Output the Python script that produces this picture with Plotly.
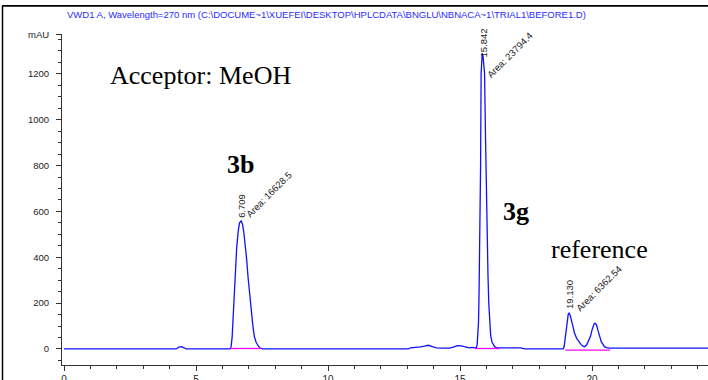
import plotly.graph_objects as go

# ---- chromatogram signal (time in min, absorbance in mAU) ----
time_min = [
    0.0, 4.25, 4.35, 4.45, 4.55, 4.62,
    6.29, 6.33, 6.37, 6.42, 6.48, 6.54, 6.60, 6.65, 6.709, 6.76, 6.81, 6.86, 6.92, 6.97,
    7.03, 7.09, 7.15, 7.21, 7.28, 7.36, 7.43, 7.52,
    13.05, 13.12, 13.3, 13.5, 13.65, 13.8, 13.95, 14.1, 14.3, 14.6, 14.75, 14.9, 15.05,
    15.2, 15.35, 15.45, 15.55, 15.6,
    15.62, 15.65, 15.68, 15.70, 15.72, 15.75, 15.78, 15.80, 15.82, 15.842, 15.87, 15.90,
    15.93, 15.97, 16.00, 16.03, 16.06, 16.09, 16.12, 16.16, 16.21, 16.26, 16.31, 16.38,
    16.45, 17.3, 17.45,
    18.90, 18.92, 18.95, 18.98, 19.02, 19.06, 19.10, 19.13, 19.17, 19.22, 19.28, 19.34,
    19.42, 19.50, 19.58, 19.66, 19.72, 19.80, 19.87, 19.94, 20.00, 20.03, 20.08, 20.12,
    20.17, 20.22, 20.29, 20.35, 20.43, 20.47, 20.55, 20.66, 24.4,
]
signal_mau = [
    0, 0, 8, 10, 5, 0,
    0, 10, 54, 170, 315, 440, 515, 550, 558, 545, 510, 461, 390, 315,
    240, 170, 105, 54, 28, 13, 4, 0,
    0, 5, 6, 9, 12, 16, 10, 5, 4, 4, 8, 14, 13,
    9, 5, 7, 4, 4,
    5, 20, 60, 113, 230, 476, 800, 1204, 1275, 1290, 1280, 1250,
    1204, 900, 650, 476, 320, 200, 113, 60, 30, 17, 10, 6,
    5, 5, 0,
    0, 2, 15, 45, 90, 130, 152, 156, 148, 126, 95, 68,
    46, 32, 20, 12, 10, 18, 33, 54, 82, 97, 110, 112,
    105, 83, 55, 32, 18, 10, 6, 4, 4,
]

# integration baselines (start, end, level)
base_start = [6.30, 15.55, 18.99]
base_end = [7.44, 16.50, 20.68]
base_level = [2, 2, -5]

# peak labels
peak_rt_text = ["6.709", "15.842", "19.130"]
peak_area_text = ["Area: 16628.5", "Area: 23794.4", "Area: 6362.54"]

y_tick_vals = [0, 200, 400, 600, 800, 1000, 1200, 1370]
y_tick_text = ["0", "200", "400", "600", "800", "1000", "1200", "mAU"]
x_tick_vals = [0, 5, 10, 15, 20]

title_text = "VWD1 A, Wavelength=270 nm (C:\\DOCUME~1\\XUEFEI\\DESKTOP\\HPLCDATA\\BNGLU\\NBNACA~1\\TRIAL1\\BEFORE1.D)"

W, H = 708, 380

def px(xp):
    return xp / W

def py(yp):
    return 1 - yp / H

fig = go.Figure()
fig.add_trace(go.Scatter(x=time_min, y=signal_mau, mode="lines",
                         line=dict(color="#1010ff", width=1.3), hoverinfo="skip"))
for s, e, lv in zip(base_start, base_end, base_level):
    fig.add_trace(go.Scatter(x=[s, e], y=[lv, lv], mode="lines",
                             line=dict(color="#ff00ff", width=1.3), hoverinfo="skip"))

# label positions (data coords)
rt_pos = [(6.72, 626), (15.89, 1335), (19.17, 236)]
area_pos = [(7.75, 674), (16.91, 1283), (20.25, 264)]
small_font = dict(family="Liberation Sans, Arial", size=9.5, color="#222222")
annotations = []
for (x, y), t in zip(rt_pos, peak_rt_text):
    annotations.append(dict(x=x, y=y, text=t, textangle=-90, showarrow=False,
                            xanchor="center", yanchor="middle", font=small_font))
for (x, y), t in zip(area_pos, peak_area_text):
    annotations.append(dict(x=x, y=y, text=t, textangle=-45, showarrow=False,
                            xanchor="center", yanchor="middle", font=small_font))

serif = "Liberation Serif, Times New Roman, serif"
big_font = dict(family=serif, size=26, color="black")
annotations += [
    dict(x=1.67, y=1195, text="Acceptor: MeOH", showarrow=False, xanchor="left",
         yanchor="middle", font=big_font),
    dict(x=6.67, y=803, text="<b>3b</b>", showarrow=False, xanchor="center",
         yanchor="middle", font=big_font),
    dict(x=17.12, y=598, text="<b>3g</b>", showarrow=False, xanchor="center",
         yanchor="middle", font=big_font),
    dict(x=20.3, y=432, text="reference", showarrow=False, xanchor="center",
         yanchor="middle", font=big_font),
    dict(xref="paper", yref="paper", x=px(65), y=py(14), text=title_text, showarrow=False,
         xanchor="left", yanchor="middle",
         font=dict(family="Liberation Sans, Arial", size=9.5, color="#2a2aff")),
]

# outer frame lines (left and top edges of the exported image)
shapes = [
    dict(type="line", xref="paper", yref="paper", x0=px(2.5), x1=px(2.5), y0=-0.01, y1=py(6),
         line=dict(color="black", width=1.5), layer="above"),
    dict(type="line", xref="paper", yref="paper", x0=px(2.5), x1=1.01, y0=py(6), y1=py(6),
         line=dict(color="black", width=1.5), layer="above"),
]

fig.update_layout(
    width=W, height=H,
    margin=dict(l=0, r=0, t=0, b=0, autoexpand=False),
    paper_bgcolor="white", plot_bgcolor="white",
    showlegend=False,
    annotations=annotations,
    shapes=shapes,
    xaxis=dict(
        domain=[px(62), 1.0],
        range=[-0.076, 24.394], tickvals=x_tick_vals, ticks="outside", ticklen=5,
        tickcolor="#333", showgrid=False, zeroline=False, showline=True, linecolor="#333",
        linewidth=1, ticklabelstandoff=0,
        tickfont=dict(family="Liberation Sans, Arial", size=10, color="#222"),
        minor=dict(dtick=1, tick0=0, ticks="outside", ticklen=3, tickcolor="#333", showgrid=False),
    ),
    yaxis=dict(
        domain=[py(365), py(34)],
        range=[-70, 1374], tickvals=y_tick_vals, ticktext=y_tick_text, ticks="outside",
        ticklen=5, tickcolor="#333", showgrid=False, zeroline=False, showline=True,
        linecolor="#333", linewidth=1, ticklabelstandoff=5,
        tickfont=dict(family="Liberation Sans, Arial", size=9.5, color="#222"),
        minor=dict(dtick=50, tick0=0, ticks="outside", ticklen=3, tickcolor="#333", showgrid=False),
    ),
)

post = (
    "document.body.style.margin='0px';document.body.style.overflow='hidden';"
    "var fr=document.createElement('div');"
    "fr.style.cssText='position:absolute;left:2px;top:5px;width:760px;height:420px;"
    "border-left:1.5px solid #000;border-top:1.5px solid #000;pointer-events:none;z-index:10;';"
    "document.body.appendChild(fr);"
)
fig.write_html("out.html", config={"displayModeBar": False}, post_script=post)
